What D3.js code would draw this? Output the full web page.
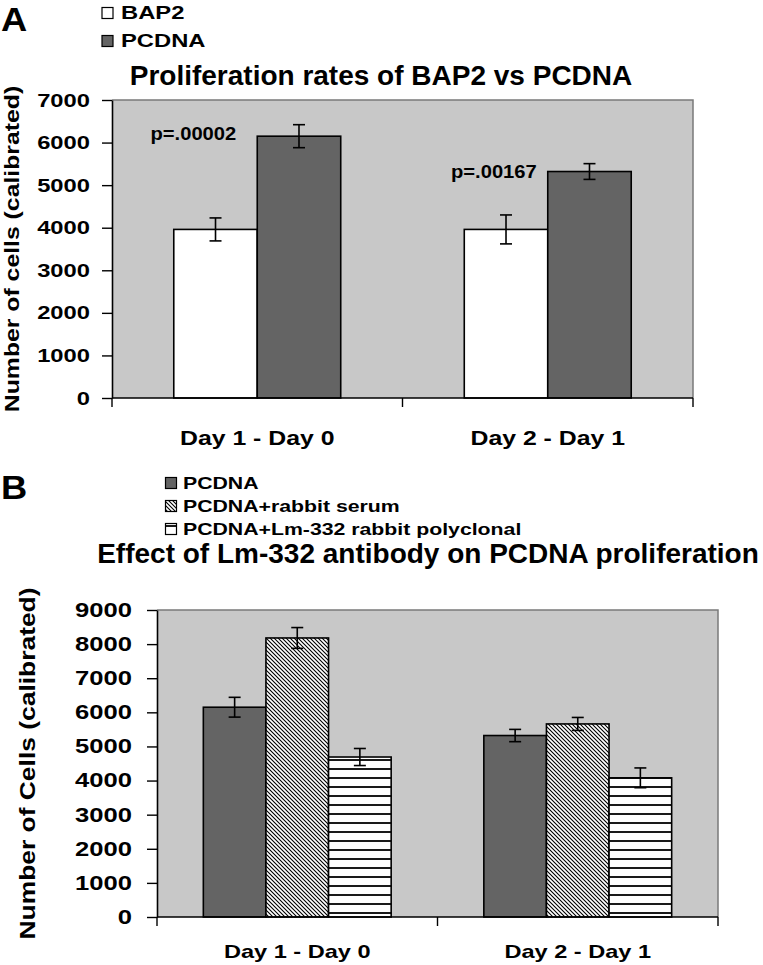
<!DOCTYPE html>
<html><head><meta charset="utf-8">
<script src="https://cdn.jsdelivr.net/npm/d3@7"></script>
<style>
html,body{margin:0;padding:0;background:#fff;}
text{font-family:"Liberation Sans",Arial,sans-serif;font-weight:bold;fill:#000;}
</style></head>
<body>
<svg id="chart" width="763" height="965"></svg>
<script>
// ---------- DATA ----------
const categories = ["Day 1 - Day 0", "Day 2 - Day 1"];

// Panel A
const titleA = "Proliferation rates of BAP2 vs PCDNA";
const yLabelA = "Number of cells (calibrated)";
const seriesA = ["BAP2", "PCDNA"];
const bap2Values = [3960, 3960];
const bap2Errors = [270, 340];
const pcdnaAValues = [6150, 5320];
const pcdnaAErrors = [270, 185];
const pLabels = ["p=.00002", "p=.00167"];
const pLabelValues = [6050, 5160];
const yTicksA = [0, 1000, 2000, 3000, 4000, 5000, 6000, 7000];

// Panel B
const titleB = "Effect of Lm-332 antibody on PCDNA proliferation";
const yLabelB = "Number of Cells (calibrated)";
const seriesB = ["PCDNA", "PCDNA+rabbit serum", "PCDNA+Lm-332 rabbit polyclonal"];
const pcdnaBValues = [6150, 5320];
const pcdnaBErrors = [290, 180];
const serumValues = [8180, 5660];
const serumErrors = [305, 190];
const lmValues = [4690, 4080];
const lmErrors = [250, 290];
const yTicksB = [0, 1000, 2000, 3000, 4000, 5000, 6000, 7000, 8000, 9000];

// ---------- DRAW ----------
const svg = d3.select("#chart");
const defs = svg.append("defs");
const diag = defs.append("pattern").attr("id","diag").attr("patternUnits","userSpaceOnUse")
  .attr("width",4).attr("height",4);
diag.append("rect").attr("width",4).attr("height",4).attr("fill","#fff");
diag.append("path").attr("d","M0,0L4,4M-1,3L1,5M3,-1L5,1").attr("stroke","#000").attr("stroke-width",1.1);
const horiz = defs.append("pattern").attr("id","horiz").attr("patternUnits","userSpaceOnUse")
  .attr("width",10).attr("height",9);
horiz.append("rect").attr("width",10).attr("height",9).attr("fill","#fff");
horiz.append("line").attr("x1",0).attr("x2",10).attr("y1",4).attr("y2",4).attr("stroke","#000").attr("stroke-width",1.8);

function stretch(sel, k){
  sel.each(function(){
    const l = this.getComputedTextLength();
    d3.select(this).attr("textLength", l*k).attr("lengthAdjust","spacingAndGlyphs");
  });
}

function panel(o){
  const g = svg.append("g");
  const x = d3.scaleBand().domain(categories).range([o.x0, o.x1]).padding(0);
  const x1 = d3.scaleBand().domain(o.series).range([0, x.bandwidth()]).paddingInner(0).paddingOuter(0.74);
  const y = d3.scaleLinear().domain([0, o.yMax]).range([o.y1, o.y0]);

  // plot area
  g.append("rect").attr("x",o.x0).attr("y",o.y0).attr("width",o.x1-o.x0).attr("height",o.y1-o.y0)
    .attr("fill","#c8c8c8");
  g.append("path").attr("d",`M${o.x0},${o.y0}H${o.x1}V${o.y1}`).attr("fill","none")
    .attr("stroke","#7a7a7a").attr("stroke-width",1.5);

  // bars
  o.data.forEach((s, si) => {
    const name = o.series[si];
    const bg = g.append("g");
    bg.selectAll("rect").data(categories).join("rect")
      .attr("x", c => x(c) + x1(name))
      .attr("y", (c,i) => y(s.values[i]))
      .attr("width", x1.bandwidth())
      .attr("height", (c,i) => y(0) - y(s.values[i]))
      .attr("fill", s.fill).attr("stroke","#000").attr("stroke-width",1.6);
    const cx = c => x(c) + x1(name) + x1.bandwidth()/2;
    const eg = g.append("g").attr("stroke","#000").attr("stroke-width",1.6);
    categories.forEach((c,i) => {
      const v = s.values[i], e = s.errors[i];
      eg.append("line").attr("x1",cx(c)).attr("x2",cx(c)).attr("y1",y(v+e)).attr("y2",y(v-e));
      eg.append("line").attr("x1",cx(c)-6).attr("x2",cx(c)+6).attr("y1",y(v+e)).attr("y2",y(v+e));
      eg.append("line").attr("x1",cx(c)-6).attr("x2",cx(c)+6).attr("y1",y(v-e)).attr("y2",y(v-e));
    });
  });

  // y axis
  const ya = g.append("g").attr("transform",`translate(${o.x0},0)`)
    .call(d3.axisLeft(y).tickValues(o.yTicks).tickSize(10).tickSizeOuter(0).tickPadding(o.tickPad).tickFormat(d3.format("d")));
  ya.select(".domain").attr("stroke","#000").attr("stroke-width",1.6);
  ya.selectAll(".tick line").attr("stroke","#000").attr("stroke-width",1.4);
  ya.selectAll(".tick text").attr("font-size",o.tickFont).attr("font-family",null).attr("fill","#000")
    .call(stretch, o.tickK);

  // x axis
  g.append("line").attr("x1",o.x0).attr("x2",o.x1).attr("y1",o.y1).attr("y2",o.y1)
    .attr("stroke","#000").attr("stroke-width",1.6);
  const bounds = categories.map(c => x(c)).concat([o.x1]);
  g.selectAll(".xt").data(bounds).join("line").attr("class","xt")
    .attr("x1",d=>d).attr("x2",d=>d).attr("y1",o.y1).attr("y2",o.y1+9)
    .attr("stroke","#000").attr("stroke-width",1.4);
  g.selectAll(".xl").data(categories).join("text").attr("class","xl")
    .attr("x", c => x(c) + x.bandwidth()/2).attr("y", o.catY)
    .attr("text-anchor","middle").attr("font-size",o.catFont).text(c=>c)
    .call(stretch, 1.24);

  // y label
  g.append("text").attr("transform",`translate(${o.yLabX},${(o.y0+o.y1)/2}) rotate(-90)`)
    .attr("text-anchor","middle").attr("font-size",o.yLabFont).text(o.yLabel).call(stretch,o.yLabK);

  // title
  g.append("text").attr("x",o.titleX).attr("y",o.titleY).attr("text-anchor","middle")
    .attr("font-size",28).text(o.title);

  return {x, x1, y, g};
}

// Panel A
const A = panel({
  x0:112, x1:693, y0:100, y1:398, yMax:7000, yTicks:yTicksA, tickPad:12, tickFont:19, tickK:1.25,
  series:seriesA, catY:445, catFont:20, yLabX:19, yLabFont:21, yLabK:1.18, yLabel:yLabelA,
  title:titleA, titleX:381, titleY:85,
  data:[{values:bap2Values, errors:bap2Errors, fill:"#fff"},
        {values:pcdnaAValues, errors:pcdnaAErrors, fill:"#646464"}]
});
// p-values
const pOffsets = [21, 11];
A.g.selectAll(".pl").data(pLabels).join("text").attr("class","pl")
  .attr("x",(d,i)=>A.x(categories[i]) + A.x1("PCDNA") - pOffsets[i])
  .attr("y",(d,i)=>A.y(pLabelValues[i]))
  .attr("text-anchor","end").attr("font-size",18).text(d=>d).call(stretch,1.12);

// Panel B
const B = panel({
  x0:157, x1:718, y0:610, y1:917, yMax:9000, yTicks:yTicksB, tickPad:15, tickFont:20, tickK:1.28,
  series:seriesB, catY:958, catFont:19, yLabX:35, yLabFont:22, yLabK:1.2, yLabel:yLabelB,
  title:titleB, titleX:428, titleY:563,
  data:[{values:pcdnaBValues, errors:pcdnaBErrors, fill:"#646464"},
        {values:serumValues, errors:serumErrors, fill:"url(#diag)"},
        {values:lmValues, errors:lmErrors, fill:"url(#horiz)"}]
});

// panel letters
svg.append("text").attr("x",1).attr("y",31).attr("font-size",33).text("A").call(stretch,1.1);
svg.append("text").attr("x",1).attr("y",499).attr("font-size",33).text("B").call(stretch,1.1);

// legends
function legend(items, fills, bx, tx, baselines, font){
  const lg = svg.append("g");
  items.forEach((t,i)=>{
    lg.append("rect").attr("x",bx).attr("y",baselines[i]-11.5).attr("width",11).attr("height",11)
      .attr("fill",fills[i]).attr("stroke","#000").attr("stroke-width",1.2);
    lg.append("text").attr("x",tx).attr("y",baselines[i]).attr("font-size",font).text(t).call(stretch,1.25);
  });
}
legend(seriesA, ["#fff","#646464"], 102, 121, [19, 47], 19);
legend(seriesB, ["#646464","url(#diag)","url(#horiz)"], 165.5, 183, [489, 512, 535], 17);
</script>
</body></html>
